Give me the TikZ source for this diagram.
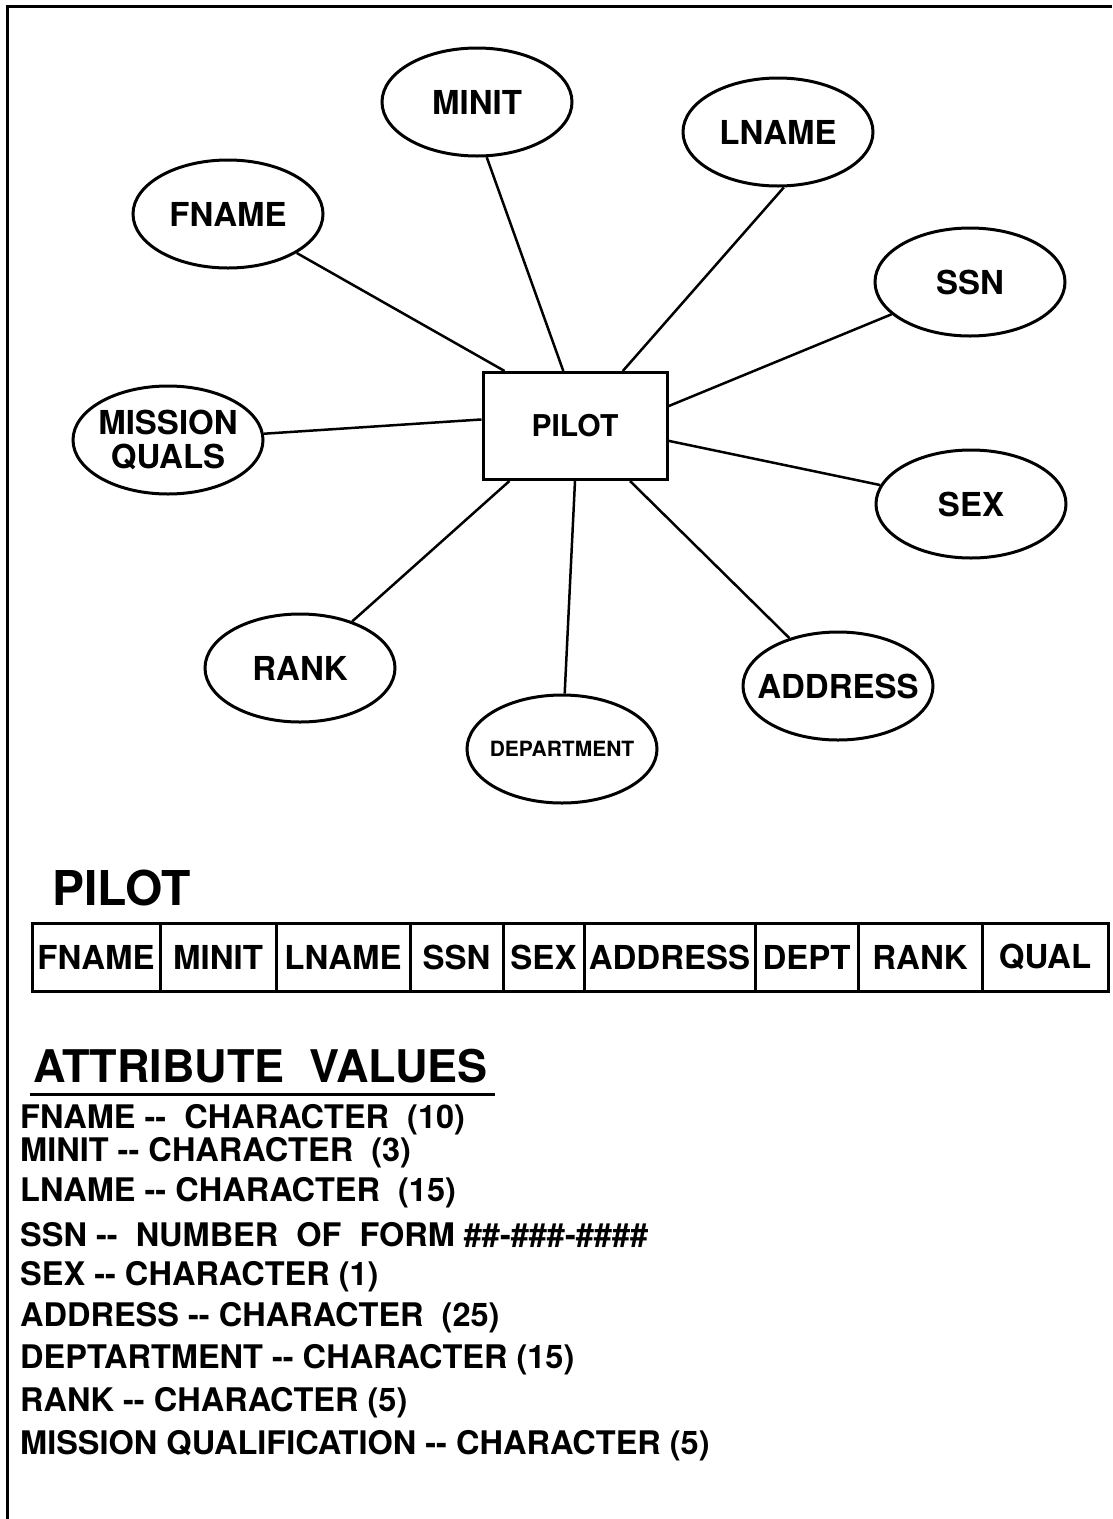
\documentclass[tikz,border=0pt]{standalone}
\usepackage{fontspec}
\setmainfont{TeX Gyre Heros}
\usetikzlibrary{shapes.geometric}

\tikzset{
  attr/.style={draw, ellipse, line width=3pt, minimum width=190pt, minimum height=108pt,
    inner sep=0pt, align=center, font=\bfseries\fontsize{33}{34}\selectfont},
  entity/.style={draw, rectangle, line width=3pt, minimum width=184pt, minimum height=107pt,
    font=\bfseries\fontsize{30}{30}\selectfont},
  link/.style={line width=2.5pt},
  cell/.style={draw, rectangle, line width=3pt, minimum height=68pt, inner sep=0pt,
    font=\bfseries\fontsize{33}{33}\selectfont},
  valline/.style={anchor=west, inner sep=0pt, font=\bfseries\fontsize{32.5}{33}\selectfont}
}

\begin{document}
\begin{tikzpicture}[x=1pt,y=-1pt]
\useasboundingbox (0,0) rectangle (1112,1519);

% frame
\draw[line width=3pt] (1112,6) -- (7,6) -- (7,1519);

% entity and its attributes
\node[entity] (pilot) at (575,426) {PILOT};

\node[attr] (minit) at (477,102) {MINIT};
\node[attr] (lname) at (778,132) {LNAME};
\node[attr] (fname) at (228,214) {FNAME};
\node[attr] (ssn) at (970,282) {SSN};
\node[attr, inner xsep=-8pt] (quals) at (168,440) {MISSION\\QUALS};
\node[attr] (sex) at (971,504) {SEX};
\node[attr] (rank) at (300,668) {RANK};
\node[attr, inner xsep=-24pt] (address) at (838,686) {ADDRESS};
\node[attr, inner xsep=-20pt, font=\bfseries\fontsize{21}{21}\selectfont] (dept) at (562,749) {DEPARTMENT};

\draw[link] (pilot.142) -- (fname);
\draw[link] (pilot.102) -- (minit.-80);
\draw[link] (pilot.49) -- (lname.-84);
\draw[link] (pilot.12) -- (ssn);
\draw[link] (pilot.-9) -- (sex);
\draw[link] (pilot.-45) -- (address);
\draw[link] (pilot.-90) -- (dept);
\draw[link] (pilot.220) -- (rank);
\draw[link] (pilot.176) -- (quals);

% relation
\node[anchor=west, inner sep=0pt, font=\bfseries\fontsize{48}{48}\selectfont] (reltitle) at (52,888) {PILOT};
\foreach \l/\r/\t/\n in {32/160/FNAME/fname, 160/276/MINIT/minit, 276/410/LNAME/lname,
    410/503/SSN/ssn, 503/584/SEX/sex, 584/755/ADDRESS/address, 755/858/DEPT/dept,
    858/982/RANK/rank, 982/1108/QUAL/qual}
  \node[cell, minimum width=\r pt-\l pt] (c\n) at ({(\l+\r)/2},957) {\t};

% attribute values
\node[anchor=west, inner sep=0pt, font=\bfseries\fontsize{45}{45}\selectfont] (valtitle) at (33,1066) {ATTRIBUTE\ \ VALUES};
\draw[line width=3pt] (30,1094) -- (495,1094);
\node[valline] (v1) at (20,1120) {FNAME -{}-\ \ CHARACTER\ \ (10)};
\node[valline] (v2) at (20,1153) {MINIT -{}- CHARACTER\ \ (3)};
\node[valline] (v3) at (20,1193) {LNAME -{}- CHARACTER\ \ (15)};
\node[valline] (v4) at (20,1235) {SSN -{}-\ \ NUMBER\ \ OF\ \ FORM \#\#-\#\#\#-\#\#\#\#};
\node[valline] (v5) at (20,1277) {SEX -{}- CHARACTER (1)};
\node[valline] (v6) at (20,1318) {ADDRESS -{}- CHARACTER\ \ (25)};
\node[valline] (v7) at (20,1360) {DEPTARTMENT -{}- CHARACTER (15)};
\node[valline] (v8) at (20,1403) {RANK -{}- CHARACTER (5)};
\node[valline] (v9) at (20,1446) {MISSION QUALIFICATION -{}- CHARACTER (5)};
\end{tikzpicture}
\end{document}
